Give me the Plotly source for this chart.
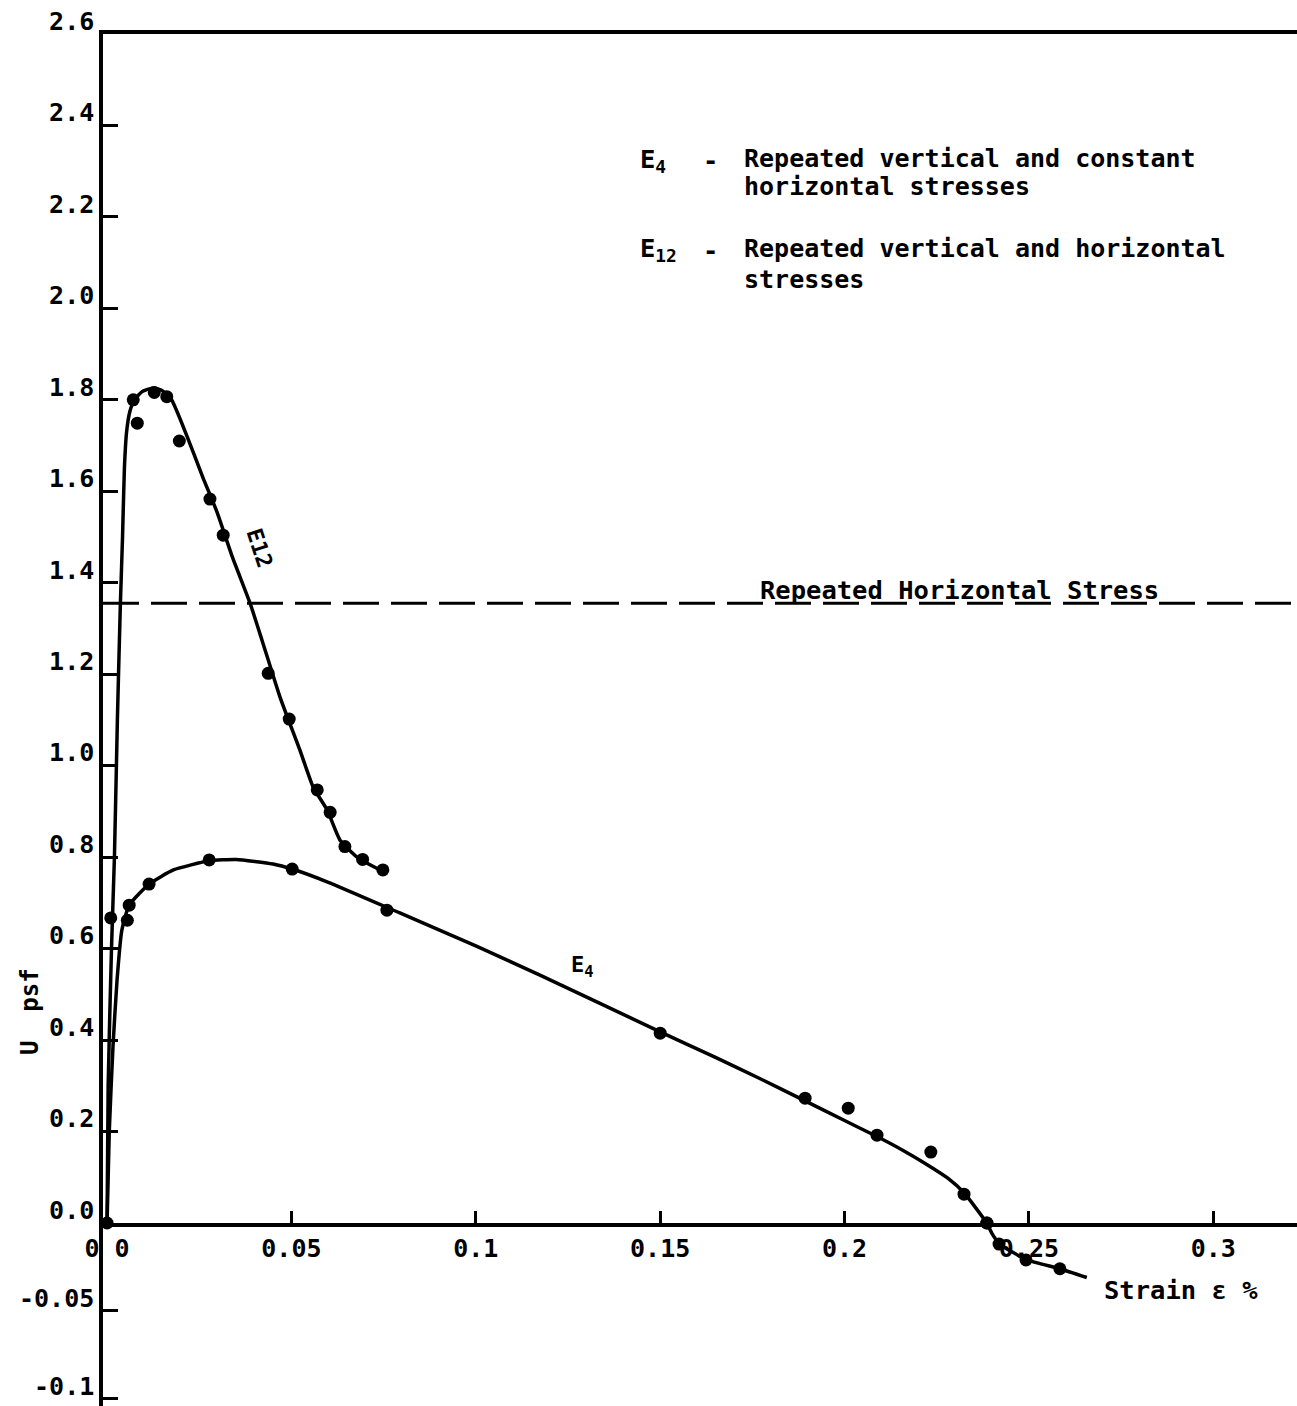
import plotly.graph_objects as go

# ---------------- data ----------------
# E12 measured points (strain %, U psf)
e12_x = [0.0071, 0.0082, 0.0128, 0.0162, 0.0196, 0.0279, 0.0315, 0.0437, 0.0494,
         0.0570, 0.0605, 0.0645, 0.0693, 0.0748]
e12_y = [1.800, 1.749, 1.816, 1.807, 1.710, 1.583, 1.504, 1.202, 1.102,
         0.947, 0.898, 0.823, 0.795, 0.772]

# E12 fitted curve (as drawn)
e12_curve_x = [0.0, 0.0003, 0.0012, 0.0020, 0.0028, 0.0036, 0.0042, 0.0047, 0.0053,
               0.0062, 0.0074, 0.0095, 0.0125, 0.0150, 0.0175, 0.0217, 0.0260, 0.0298,
               0.0340, 0.0388, 0.0420, 0.0469, 0.0523, 0.0559, 0.0597, 0.0632, 0.0678, 0.0749]
e12_curve_y = [0.0, 0.30, 0.60, 0.80, 1.10, 1.35, 1.50, 1.65, 1.73,
               1.775, 1.800, 1.818, 1.826, 1.820, 1.800, 1.720, 1.630, 1.555,
               1.456, 1.355, 1.275, 1.150, 1.034, 0.953, 0.903, 0.837, 0.800, 0.768]

# E4 measured points
e4_x = [0.0, 0.0010, 0.0055, 0.0060, 0.0114, 0.0277, 0.0502, 0.0759, 0.1500, 0.1893,
        0.2010, 0.2088, 0.2234, 0.2324, 0.2386, 0.2419, 0.2492, 0.2584]
e4_y = [0.0, 0.667, 0.662, 0.695, 0.741, 0.794, 0.774, 0.684, 0.415, 0.273,
        0.251, 0.192, 0.155, 0.063, 0.0, -0.012, -0.021, -0.026]

# E4 fitted curve (as drawn)
e4_curve_x = [0.0, 0.0006, 0.0016, 0.0027, 0.0040, 0.0060, 0.0114, 0.0180, 0.0277, 0.0350,
              0.0450, 0.0502, 0.0600, 0.0794, 0.1000, 0.1174, 0.1500, 0.1650, 0.1770, 0.1890,
              0.2000, 0.2088, 0.2160, 0.2223, 0.2280, 0.2324, 0.2386, 0.2400, 0.2421, 0.2495,
              0.2584, 0.2657]
e4_curve_y = [0.0, 0.20, 0.385, 0.53, 0.64, 0.695, 0.741, 0.772, 0.792, 0.795,
              0.785, 0.774, 0.745, 0.678, 0.606, 0.542, 0.418, 0.362, 0.316, 0.268,
              0.224, 0.189, 0.158, 0.128, 0.098, 0.066, 0.0, -0.006, -0.012, -0.021,
              -0.026, -0.031]

# Repeated horizontal stress level
repeated_horizontal_stress = [1.355]

# Tick labels
x_ticks = [0.0, 0.05, 0.1, 0.15, 0.2, 0.25, 0.3]
x_tick_labels = ["0\u00a00", "0.05", "0.1", "0.15", "0.2", "0.25", "0.3"]
y_ticks = [0.0, 0.2, 0.4, 0.6, 0.8, 1.0, 1.2, 1.4, 1.6, 1.8, 2.0, 2.2, 2.4, 2.6]
y_tick_labels = ["0.0", "0.2", "0.4", "0.6", "0.8", "1.0", "1.2", "1.4", "1.6", "1.8",
                 "2.0", "2.2", "2.4", "2.6"]
y_neg_ticks = [-0.05, -0.1]
y_neg_tick_labels = ["-0.05", "-0.1"]

# ---------------- figure ----------------
FONT = "DejaVu Sans Mono"
INK = "black"


def split(xs, ys):
    pos = [(a, b) for a, b in zip(xs, ys) if b >= 0]
    neg = [(a, b) for a, b in zip(xs, ys) if b <= 0 and a > 0.1]
    return ([p[0] for p in pos], [p[1] for p in pos]), ([p[0] for p in neg], [p[1] for p in neg])


fig = go.Figure()

line_style = dict(color=INK, width=3.5, shape="spline", smoothing=0.5)
marker_style = dict(color=INK, size=13)

# E12
fig.add_trace(go.Scatter(x=e12_curve_x, y=e12_curve_y, mode="lines", line=line_style,
                         xaxis="x", yaxis="y", cliponaxis=False))
fig.add_trace(go.Scatter(x=e12_x, y=e12_y, mode="markers", marker=marker_style,
                         xaxis="x", yaxis="y", cliponaxis=False))

# E4 (split between the positive and the stretched negative axis)
(cpx, cpy), (cnx, cny) = split(e4_curve_x, e4_curve_y)
(ppx, ppy), (pnx, pny) = split(e4_x, e4_y)
fig.add_trace(go.Scatter(x=cpx, y=cpy, mode="lines", line=line_style,
                         xaxis="x", yaxis="y", cliponaxis=False))
fig.add_trace(go.Scatter(x=cnx, y=cny, mode="lines", line=line_style,
                         xaxis="x", yaxis="y2", cliponaxis=False))
fig.add_trace(go.Scatter(x=ppx, y=ppy, mode="markers", marker=marker_style,
                         xaxis="x", yaxis="y", cliponaxis=False))
fig.add_trace(go.Scatter(x=pnx, y=pny, mode="markers", marker=marker_style,
                         xaxis="x", yaxis="y2", cliponaxis=False))

# dashed reference line
fig.add_trace(go.Scatter(x=[-0.0011, 0.3227], y=repeated_horizontal_stress * 2, mode="lines",
                         line=dict(color=INK, width=3, dash="36px,12px"),
                         xaxis="x", yaxis="y"))

tickfont = dict(family=FONT, size=25, color=INK, weight="bold")

NEG_FRAC = 0.1334

fig.update_layout(
    width=1297, height=1406,
    margin=dict(l=103, r=0, t=34, b=0, autoexpand=False),
    paper_bgcolor="white", plot_bgcolor="white",
    showlegend=False,
    xaxis=dict(range=[-0.0011, 0.3227], domain=[0, 1], anchor="y", automargin=False,
               showgrid=False, zeroline=False, showline=True, mirror=True,
               linecolor=INK, linewidth=3.5,
               ticks="inside", ticklen=12, tickwidth=3, tickcolor=INK,
               tickvals=x_ticks, ticktext=x_tick_labels, tickfont=tickfont,
               ticklabelstandoff=0),
    yaxis=dict(range=[0, 2.6], domain=[NEG_FRAC, 1], anchor="x", automargin=False,
               showgrid=False, zeroline=False, showline=True,
               linecolor=INK, linewidth=3.5,
               ticks="inside", ticklen=15, tickwidth=3, tickcolor=INK,
               tickvals=y_ticks, ticktext=y_tick_labels, tickfont=tickfont,
               ticklabelshift=-13),
    yaxis2=dict(range=[-0.104, 0], domain=[0, NEG_FRAC], anchor="x", automargin=False,
                showgrid=False, zeroline=False, showline=True,
                linecolor=INK, linewidth=3.5,
                ticks="inside", ticklen=15, tickwidth=3, tickcolor=INK,
                tickvals=y_neg_ticks, ticktext=y_neg_tick_labels, tickfont=tickfont,
                ticklabelshift=-13),
)


def px2paper(px, py):
    return (px - 103) / 1194.0, (1406 - py) / 1372.0


def note(text, px, py, size=25.5, xanchor="left", angle=0):
    x, y = px2paper(px, py)
    fig.add_annotation(text=text, x=x, y=y, xref="paper", yref="paper",
                       xanchor=xanchor, yanchor="middle", showarrow=False,
                       textangle=angle,
                       font=dict(family=FONT, size=size, color=INK, weight="bold"))


# key text
note("E<sub>4</sub>", 638, 160)
note("-", 710, 160, xanchor="center")
note("Repeated vertical and constant", 742, 158, size=25)
note("horizontal stresses", 742, 187, size=25)
note("E<sub>12</sub>", 638, 250)
note("-", 710, 250, xanchor="center")
note("Repeated vertical and horizontal", 742, 249, size=25)
note("stresses", 742, 279, size=25)

note("Repeated Horizontal Stress", 758, 590)

# curve labels
note("E12", 260, 548, size=22, xanchor="center", angle=72)
note("E<sub>4</sub>", 582, 966, size=22, xanchor="center")

# axis titles
note("U  psf", 30, 1012, size=24, xanchor="center", angle=-90)
note("Strain \u03b5 %", 1181, 1290, size=25.5, xanchor="center")

fig.write_html("out.html", config={"displayModeBar": False},
               post_script="document.body.style.margin='0px';")
